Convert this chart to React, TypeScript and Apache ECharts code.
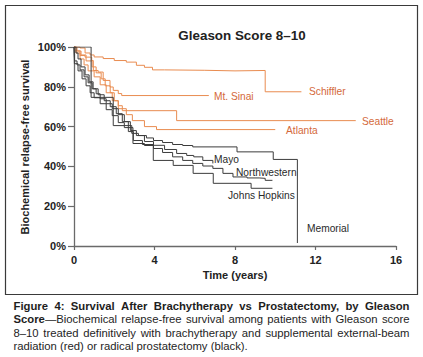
import React, { useEffect, useRef } from "react";
import * as echarts from "echarts";

const chartTitle = "Gleason Score 8–10";
const xAxisName = "Time (years)";
const yAxisName = "Biochemical relapse-free survival";

// Kaplan-Meier style curves: [years, survival %]
const schiffler: [number, number][] = [[0,100],[0.3,99.5],[0.55,97],[0.8,96],[1.0,95],[1.45,94.2],[2.0,93.2],[2.6,92.4],[3.1,90.8],[3.5,89.8],[3.9,88.5],[4.5,88.3],[6.5,88.0],[8.0,88.2],[9.5,77.5],[11.3,77.5]];
const mtSinai: [number, number][] = [[0,100],[0.05,98],[0.3,95.7],[0.55,94.9],[0.88,93.2],[0.96,88.2],[1.2,87.4],[1.45,83.2],[1.79,79.9],[1.95,78.2],[2.2,76.6],[2.37,75.6],[6.7,75.6]];
const seattle: [number, number][] = [[0,100],[0.15,98],[0.35,96],[0.6,93],[0.9,90],[1.1,87],[1.35,84],[1.55,80.5],[1.8,77],[2.0,73],[2.2,70.5],[2.4,68],[5.1,63],[14,63]];
const atlanta: [number, number][] = [[0,100],[0.1,97],[0.3,94],[0.5,91],[0.7,88],[1.0,85],[1.3,81],[1.6,77],[1.9,73],[2.2,69],[2.6,66],[2.9,63],[3.5,60],[4.1,58.5],[10,58.5]];
const memorial: [number, number][] = [[0,100],[0.85,74.7],[1.95,60.5],[2.87,56.6],[3.2,55.5],[3.6,54.3],[3.95,53],[4.4,52],[4.9,51],[5.4,50.5],[5.9,49.8],[8.1,47.3],[9.9,43.5],[11.1,1.5]];
const mayo: [number, number][] = [[0,100],[0.03,93],[0.15,91],[0.3,88.5],[0.5,85],[0.7,82],[0.9,79],[1.1,76.5],[1.3,74],[1.6,71.5],[1.9,69],[2.2,66],[2.5,62.5],[2.8,58],[3.1,55.5],[3.5,52.5],[3.95,50.6],[4.5,48.5],[5.1,46.5],[5.6,45.5],[5.95,44.8],[6.4,43],[6.9,41.5]];
const northwestern: [number, number][] = [[0,100],[0.1,97],[0.2,94],[0.35,90],[0.55,86],[0.75,82.5],[0.95,79],[1.2,76],[1.5,73],[1.8,70],[2.1,66.5],[2.4,62.5],[2.7,57.5],[2.95,53],[3.4,51],[3.95,49],[4.4,47],[4.9,44.8],[5.4,43],[5.9,41.5],[6.4,40.2],[6.9,39],[7.4,36.5],[7.9,34.7],[8.6,34.2],[9.2,34],[9.5,33],[9.86,32.7]];
const johnsHopkins: [number, number][] = [[0,100],[0.02,91.6],[0.2,88],[0.4,84],[0.6,80.5],[0.8,77],[1.0,74.5],[1.3,71.5],[1.6,68.5],[1.9,65.5],[2.2,62],[2.5,59.5],[2.93,51.5],[3.5,50.5],[3.94,43],[4.93,40.5],[5.92,36.5],[6.92,31.5],[8.8,29],[9.86,29]];

const seriesNames = ["Schiffler", "Mt. Sinai", "Seattle", "Atlanta", "Memorial", "Mayo", "Northwestern", "Johns Hopkins"];
const seriesData = [schiffler, mtSinai, seattle, atlanta, memorial, mayo, northwestern, johnsHopkins];
const seriesGroup = ["brachy", "brachy", "brachy", "brachy", "surgery", "surgery", "surgery", "surgery"];

const captionLines = [
  [{ t: "Figure 4: Survival After Brachytherapy vs Prostatectomy, by Gleason", b: true }],
  [{ t: "Score", b: true }, { t: "—Biochemical relapse-free survival among patients with Gleason score", b: false }],
  [{ t: "8–10 treated definitively with brachytherapy and supplemental external-beam", b: false }],
  [{ t: "radiation (red) or radical prostatectomy (black).", b: false }],
];

const FONT = "'Liberation Sans', Arial, Helvetica, sans-serif";
const ORANGE_LINE = "#e98c50";
const ORANGE_TEXT = "#d4693a";
const DARK_LINE = "#3c3c3c";
const DARK_TEXT = "#2a2a2a";

// label anchor (left edge, vertical center) in pixels
const labelPos: Record<string, [number, number]> = {
  "Schiffler": [309, 91],
  "Mt. Sinai": [214, 96],
  "Seattle": [362, 121],
  "Atlanta": [286, 130],
  "Mayo": [214, 159],
  "Northwestern": [236, 172],
  "Johns Hopkins": [228, 195],
  "Memorial": [307, 228],
};

function buildCaption(): any[] {
  const canvas = document.createElement("canvas");
  const ctx = canvas.getContext("2d")!;
  const size = 11.3;
  const fontStr = (b: boolean) => `${b ? "bold " : ""}${size}px 'Liberation Sans', Arial, sans-serif`;
  const startX = 13.5;
  const endX = 409.5;
  const ys = [306, 319.3, 332.6, 345.9];
  const out: any[] = [];
  captionLines.forEach((segs, li) => {
    const tokens: { text: string; b: boolean; gap: boolean; w: number }[] = [];
    segs.forEach((seg, si) => {
      const words = seg.t.split(" ");
      words.forEach((w, wi) => {
        ctx.font = fontStr(seg.b);
        tokens.push({ text: w, b: seg.b, gap: !(wi === 0), w: ctx.measureText(w).width });
        if (wi === 0 && si === 0) tokens[tokens.length - 1].gap = false;
      });
    });
    ctx.font = fontStr(false);
    const spaceW = ctx.measureText(" ").width;
    const gaps = tokens.filter((t) => t.gap).length;
    const natural = tokens.reduce((s, t) => s + t.w + (t.gap ? spaceW : 0), 0);
    const justify = li < captionLines.length - 1;
    const gapW = justify && gaps > 0 ? spaceW + (endX - startX - natural) / gaps : spaceW;
    let x = startX;
    tokens.forEach((t) => {
      if (t.gap) x += gapW;
      out.push({
        type: "text",
        x,
        y: ys[li],
        style: {
          text: t.text,
          fill: "#1e1e1e",
          fontSize: size,
          fontWeight: t.b ? "bold" : "normal",
          fontFamily: FONT,
          align: "left",
          verticalAlign: "middle",
        },
      });
      x += t.w;
    });
  });
  return out;
}

export default function App() {
  const ref = useRef<HTMLDivElement>(null);
  useEffect(() => {
    if (!ref.current) return;
    const chart = echarts.init(ref.current, undefined, { renderer: "svg" });
    const labels = seriesNames.map((n, i) => ({
      type: "text",
      x: labelPos[n][0],
      y: labelPos[n][1],
      style: {
        text: n,
        fill: seriesGroup[i] === "brachy" ? ORANGE_TEXT : DARK_TEXT,
        fontSize: 10.2,
        fontFamily: FONT,
        align: "left",
        verticalAlign: "middle",
      },
    }));
    chart.setOption({
      animation: false,
      backgroundColor: "#ffffff",
      title: {
        text: chartTitle,
        left: 237,
        top: 24,
        textAlign: "center",
        textStyle: { fontSize: 13.4, fontWeight: "bold", color: "#222", fontFamily: FONT },
      },
      grid: { left: 74, right: 27, top: 47, bottom: 111 },
      xAxis: {
        type: "value",
        min: 0,
        max: 16,
        interval: 4,
        name: xAxisName,
        nameLocation: "middle",
        nameGap: 22,
        nameTextStyle: { fontSize: 11, fontWeight: "bold", color: "#222", fontFamily: FONT },
        axisLine: { lineStyle: { color: "#6a6a6a", width: 1.3 } },
        axisTick: { show: true, length: 4, lineStyle: { color: "#6a6a6a", width: 1.2 } },
        axisLabel: { fontSize: 11, fontWeight: "bold", color: "#222", fontFamily: FONT, margin: 8 },
        splitLine: { show: false },
      },
      yAxis: {
        type: "value",
        min: 0,
        max: 100,
        interval: 20,
        axisLine: { show: true, lineStyle: { color: "#6a6a6a", width: 1.3 } },
        axisTick: { show: true, length: 6, lineStyle: { color: "#6a6a6a", width: 1.2 } },
        axisLabel: { fontSize: 11, fontWeight: "bold", color: "#222", fontFamily: FONT, margin: 8, formatter: "{value}%" },
        splitLine: { show: false },
      },
      series: seriesNames.map((n, i) => ({
        name: n,
        type: "line",
        step: "end",
        symbol: "none",
        data: seriesData[i],
        lineStyle: { color: seriesGroup[i] === "brachy" ? ORANGE_LINE : DARK_LINE, width: 1 },
        itemStyle: { color: seriesGroup[i] === "brachy" ? ORANGE_LINE : DARK_LINE },
        z: seriesGroup[i] === "brachy" ? 2 : 3,
      })),
      graphic: [
        {
          type: "rect",
          shape: { x: 5.5, y: 5.5, width: 412, height: 289 },
          style: { fill: "none", stroke: "#3a3a3a", lineWidth: 1.2 },
          silent: true,
        },
        {
          type: "text",
          x: 25,
          y: 147,
          rotation: Math.PI / 2,
          style: {
            text: yAxisName,
            fill: "#222",
            fontSize: 11,
            fontWeight: "bold",
            fontFamily: FONT,
            align: "center",
            verticalAlign: "middle",
          },
        },
        ...labels,
        ...buildCaption(),
      ],
    });
    return () => chart.dispose();
  }, []);
  return (
    <div
      ref={ref}
      style={{ position: "fixed", left: 0, top: 0, width: 423, height: 357, background: "#fff" }}
    />
  );
}
